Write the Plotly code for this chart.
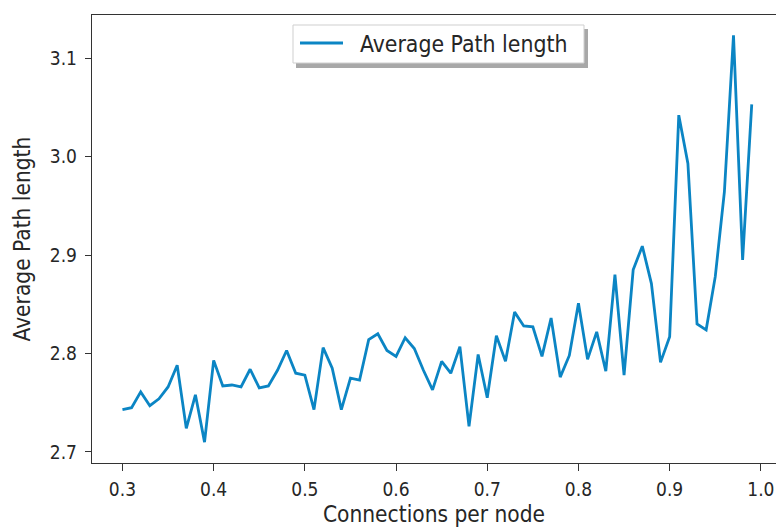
import plotly.graph_objects as go

# Connections per node (x) and measured average path length (y)
connections = [round(0.30 + 0.01 * i, 2) for i in range(70)]
avg_path_length = [
    2.743, 2.745, 2.761, 2.747, 2.754, 2.766, 2.788, 2.724, 2.758, 2.710,
    2.793, 2.767, 2.768, 2.766, 2.784, 2.765, 2.767, 2.783, 2.803, 2.780,
    2.778, 2.743, 2.806, 2.785, 2.743, 2.775, 2.773, 2.814, 2.820, 2.803,
    2.797, 2.816, 2.805, 2.783, 2.763, 2.792, 2.780, 2.807, 2.726, 2.799,
    2.755, 2.818, 2.792, 2.842, 2.828, 2.827, 2.797, 2.836, 2.776, 2.798,
    2.851, 2.794, 2.822, 2.782, 2.880, 2.778, 2.885, 2.909, 2.871, 2.791,
    2.817, 3.042, 2.993, 2.830, 2.824, 2.878, 2.964, 3.123, 2.895, 3.053,
]

x_ticks = [0.3, 0.4, 0.5, 0.6, 0.7, 0.8, 0.9, 1.0]
y_ticks = [2.7, 2.8, 2.9, 3.0, 3.1]
series_name = "Average Path length"

FONT = "DejaVu Sans Condensed, DejaVu Sans, sans-serif"
TEXT = "#262626"
AXIS = "#333333"
LINE = "#0b85c4"

W, H = 776, 528
ML, MR, MT, MB = 92, 0, 15, 65
PW, PH = W - ML - MR, H - MT - MB


def px(x):
    """pixel column -> paper x"""
    return (x - ML) / PW


def py(y):
    """pixel row -> paper y"""
    return (H - MB - y) / PH


fig = go.Figure()
fig.add_trace(go.Scatter(
    x=connections, y=avg_path_length, mode="lines",
    name=series_name, showlegend=False,
    line=dict(color=LINE, width=2.8),
))

# legend box with drop shadow
fig.add_shape(type="rect", xref="paper", yref="paper",
              x0=px(296), x1=px(588), y0=py(68), y1=py(29),
              fillcolor="#a8a8a8", line=dict(width=0), layer="above")
fig.add_shape(type="rect", xref="paper", yref="paper",
              x0=px(293), x1=px(584), y0=py(63), y1=py(25),
              fillcolor="white", line=dict(color="#cfcfcf", width=1),
              layer="above")
fig.add_shape(type="line", xref="paper", yref="paper",
              x0=px(300), x1=px(343), y0=py(43), y1=py(43),
              line=dict(color=LINE, width=2.8), layer="above")
fig.add_annotation(x=px(358), y=py(44), xref="paper", yref="paper",
                   xanchor="left", yanchor="middle", showarrow=False,
                   text=series_name,
                   font=dict(family=FONT, size=22.8, color=TEXT))

fig.update_layout(
    width=W, height=H,
    margin=dict(l=ML, r=MR, t=MT, b=MB),
    paper_bgcolor="white", plot_bgcolor="white",
    font=dict(family=FONT, size=19, color=TEXT),
    xaxis=dict(
        range=[0.2666, 1.0166],
        tickvals=x_ticks, ticktext=[f"{v:.1f}" for v in x_ticks],
        ticks="outside", ticklen=7, tickwidth=1.3, tickcolor=AXIS,
        ticklabelstandoff=2,
        showline=True, linecolor=AXIS, linewidth=1.4, mirror=True,
        showgrid=False, zeroline=False,
        tickfont=dict(family=FONT, size=19, color=TEXT),
        title=dict(text="Connections per node", standoff=7,
                   font=dict(family=FONT, size=22.5, color=TEXT)),
    ),
    yaxis=dict(
        range=[2.6888, 3.1437],
        tickvals=y_ticks, ticktext=[f"{v:.1f}" for v in y_ticks],
        ticks="outside", ticklen=6, tickwidth=1.3, tickcolor=AXIS,
        ticklabelstandoff=4,
        showline=True, linecolor=AXIS, linewidth=1.4, mirror=False,
        showgrid=False, zeroline=False,
        tickfont=dict(family=FONT, size=19, color=TEXT),
        title=dict(text="Average Path length", standoff=12,
                   font=dict(family=FONT, size=22.5, color=TEXT)),
    ),
)

fig.write_html("out.html")
